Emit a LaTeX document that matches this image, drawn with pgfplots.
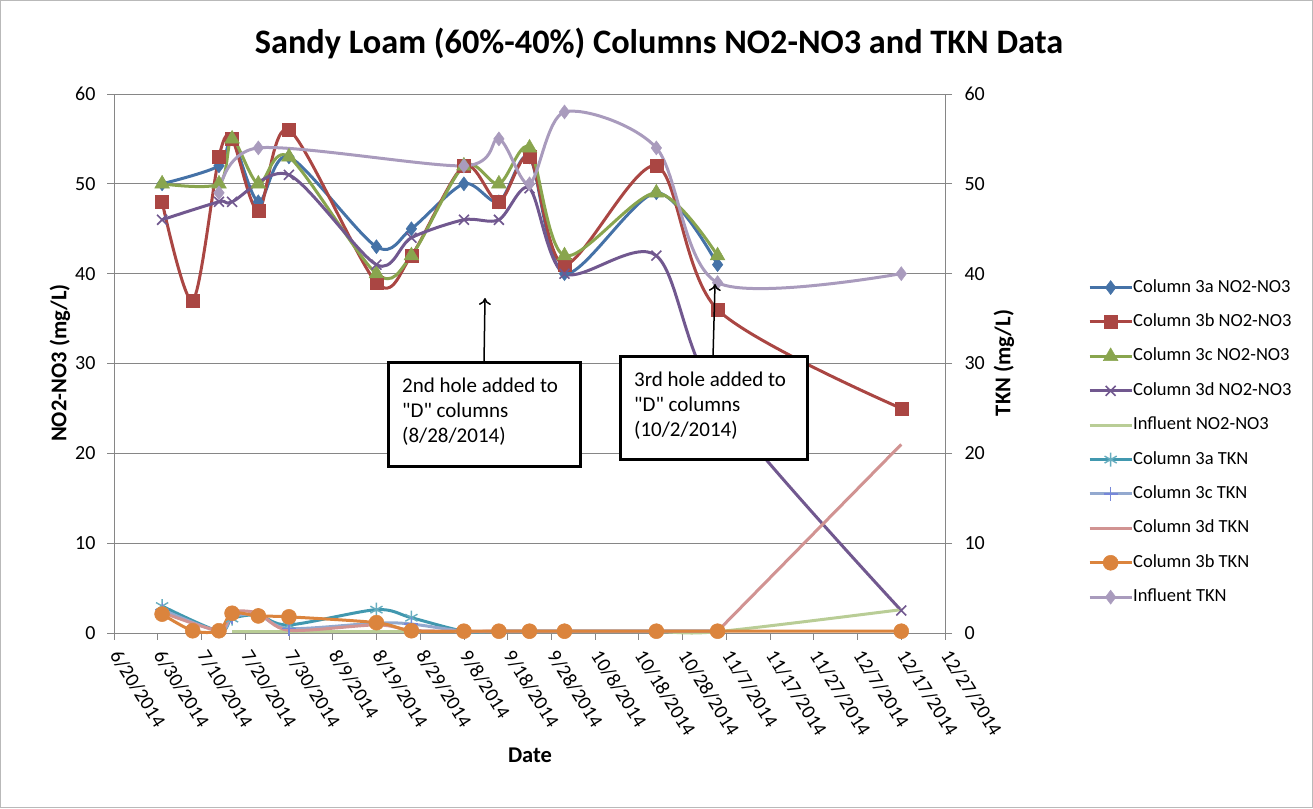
\documentclass[border=0pt]{standalone}
\usepackage{pgfplots}
\pgfplotsset{compat=1.18}
\usepackage{fontspec}
\setmainfont{Carlito}
\usetikzlibrary{arrows.meta}
\definecolor{cA}{HTML}{4572A7}
\definecolor{cB}{HTML}{AA4643}
\definecolor{cC}{HTML}{89A54E}
\definecolor{cD}{HTML}{71588F}
\definecolor{cE}{HTML}{B9CD96}
\definecolor{cF}{HTML}{4198AF}
\definecolor{cG}{HTML}{93A9CF}
\definecolor{cH}{HTML}{D19392}
\definecolor{cI}{HTML}{DB843D}
\definecolor{cJ}{HTML}{A99BBD}
\definecolor{axgray}{HTML}{868686}
\newcommand{\tickfont}{\fontsize{20}{23}\selectfont}
\newcommand{\legfont}{\fontsize{18.5}{21}\selectfont}
\begin{document}
\begin{tikzpicture}[x=1pt,y=1pt]
\useasboundingbox (0,0) rectangle (1313,808);
\draw[gray!55, line width=1pt] (0.5,0.5) rectangle (1312.5,807.5);
\begin{axis}[
  at={(114pt,175pt)}, anchor=south west, scale only axis,
  width=831pt, height=539pt,
  xmin=0, xmax=190, ymin=0, ymax=60,
  axis x line*=bottom, axis y line*=left,
  axis line style={draw=axgray, line width=0.8pt, -},
  xtick={0,10,...,190},
  xticklabels={6/20/2014,6/30/2014,7/10/2014,7/20/2014,7/30/2014,8/9/2014,8/19/2014,8/29/2014,9/8/2014,9/18/2014,9/28/2014,10/8/2014,10/18/2014,10/28/2014,11/7/2014,11/17/2014,11/27/2014,12/7/2014,12/17/2014,12/27/2014},
  ytick={0,10,...,60},
  tick align=outside, major tick length=7pt,
  tick style={draw=axgray, line width=0.8pt},
  ymajorgrids, grid style={draw=axgray, line width=0.8pt},
  /pgf/number format/assume math mode=true,
  ticklabel style={font=\tickfont},
  yticklabel style={xshift=-8pt},
  xticklabel style={yshift=-9pt, xshift=-1pt, rotate=-58, anchor=west},
  clip=false,
  every axis plot/.append style={smooth, tension=0.5, line width=3pt},
  legend style={at={(1.172,0.657)}, anchor=north west, draw=none, fill=none,
    font=\legfont, inner sep=0pt, row sep=17.4pt,
    nodes={inner sep=0pt, text height=13pt, text depth=4pt, anchor=west},
    /tikz/every even column/.append style={column sep=0pt}},
  legend cell align=left,
  legend image code/.code={\draw[mark repeat=2,mark phase=2,#1] plot coordinates {(0pt,0pt) (21pt,0pt) (42pt,0pt)};},
]
\addplot[cA, mark=diamond*, mark size=7pt, mark options={solid, fill=cA, line width=0.5pt}] coordinates {
(11,50) (24,52) (27,55) (33,48) (40,53) (60,43) (68,45) (80,50) (88,48) (95,53) (103,40) (124,49) (138,41)};
\addlegendentry{Column 3a NO2-NO3}
\addplot[cB, mark=square*, mark size=6.5pt, mark options={solid, fill=cB, line width=0.5pt}] coordinates {
(11,48) (18,37) (24,53) (27,55) (33,47) (40,56) (60,39) (68,42) (80,52) (88,48) (95,53) (103,41) (124,52) (138,36) (180,25)};
\addlegendentry{Column 3b NO2-NO3}
\addplot[cC, mark=triangle*, mark size=8.5pt, mark options={solid, fill=cC, line width=0.5pt}] coordinates {
(11,50) (24,50) (27,55) (33,50) (40,53) (60,40) (68,42) (80,52) (88,50) (95,54) (103,42) (124,49) (138,42)};
\addlegendentry{Column 3c NO2-NO3}
\addplot[cD, mark=x, mark size=7pt, mark options={solid, line width=1.6pt}] coordinates {
(11,46) (24,48) (27,48) (40,51) (60,41) (68,44) (80,46) (88,46) (95,49.5) (103,40) (124,42) (138,26) (180,2.5)};
\addlegendentry{Column 3d NO2-NO3}
\addplot[cE] coordinates {
(27,0.15) (33,0.15) (40,0.15) (60,0.15) (68,0.15) (80,0.15) (88,0.15) (95,0.15) (103,0.15) (124,0.15) (138,0.15) (180,2.6)};
\addlegendentry{Influent NO2-NO3}
\addplot[cF, mark=asterisk, mark size=7pt, mark options={solid, line width=1.4pt, draw=cF!80!white}] coordinates {
(11,3.0) (24,0.2) (27,1.6) (33,2.0) (40,0.9) (60,2.6) (68,1.7) (80,0.2) (88,0.2) (95,0.2) (103,0.2) (124,0.2) (138,0.2)};
\addlegendentry{Column 3a TKN}
\addplot[cG, mark=+, mark size=7pt, mark options={solid, line width=1.2pt, draw=cG!80!blue}] coordinates {
(11,2.6) (24,0.2) (27,1.8) (33,2.0) (40,0.5) (60,1.1) (68,1.0) (80,0.2) (88,0.2) (95,0.2) (103,0.2) (124,0.2) (138,0.2)};
\addlegendentry{Column 3c TKN}
\addplot[cH] coordinates {
(11,2.3) (24,0.3) (27,2.3) (33,2.2) (40,0.3) (60,0.9) (68,0.3) (80,0.2) (88,0.2) (95,0.2) (103,0.2) (124,0.2) (138,0.2)};
\addlegendentry{Column 3d TKN}
\addplot[cI, mark=*, mark size=7.5pt, mark options={solid, fill=cI, line width=0.5pt}] coordinates {
(11,2.1) (18,0.25) (24,0.25) (27,2.2) (33,1.9) (40,1.8) (60,1.15) (68,0.25) (80,0.2) (88,0.2) (95,0.2) (103,0.2) (124,0.2) (138,0.2) (180,0.2)};
\addlegendentry{Column 3b TKN}
\addplot[cJ, mark=diamond*, mark size=7pt, mark options={solid, fill=cJ, line width=0.5pt}] coordinates {
(24,49) (33,54) (80,52) (88,55) (95,50) (103,58) (124,54) (138,39) (180,40)};
\addlegendentry{Influent TKN}
\addplot[cH, sharp plot, forget plot] coordinates {(138,0.2) (180,21)};
\end{axis}
\begin{axis}[
  at={(114pt,175pt)}, anchor=south west, scale only axis,
  width=831pt, height=539pt,
  xmin=0, xmax=190, ymin=0, ymax=60,
  axis x line=none, axis y line*=right,
  axis line style={draw=axgray, line width=0.8pt, -},
  ytick={0,10,...,60},
  tick align=outside, major tick length=7pt,
  tick style={draw=axgray, line width=0.8pt},
  /pgf/number format/assume math mode=true,
  ticklabel style={font=\tickfont},
  yticklabel style={xshift=9pt},
]
\addplot[draw=none] coordinates {(0,0)};
\end{axis}
% titles and labels
\node[font=\fontsize{34.3}{40}\selectfont\bfseries] at (659,765) {Sandy Loam (60\%-40\%) Columns NO2-NO3 and TKN Data};
\node[font=\fontsize{22.5}{26}\selectfont\bfseries, rotate=90] at (60,445) {NO2-NO3 (mg/L)};
\node[font=\fontsize{22.5}{26}\selectfont\bfseries, rotate=90] at (1004,445) {TKN (mg/L)};
\node[font=\fontsize{22.5}{26}\selectfont\bfseries] at (530,53) {Date};
% annotations
\draw[line width=1.5pt, -{To[length=7pt,width=12pt]}] (484,445) -- (485,510);
\draw[line width=3pt, fill=white] (388,341) rectangle (580,445);
\node[anchor=north west, align=left, inner sep=0pt, font=\fontsize{21}{25}\selectfont] at (402,430) {2nd hole added to\\\textquotedbl D\textquotedbl{} columns\\(8/28/2014)};
\draw[line width=1.5pt, -{To[length=7pt,width=12pt]}] (713,451) -- (715,524);
\draw[line width=3pt, fill=white] (620,348) rectangle (807,451);
\node[anchor=north west, align=left, inner sep=0pt, font=\fontsize{21}{25}\selectfont] at (634,436) {3rd hole added to\\\textquotedbl D\textquotedbl{} columns\\(10/2/2014)};
\end{tikzpicture}
\end{document}
